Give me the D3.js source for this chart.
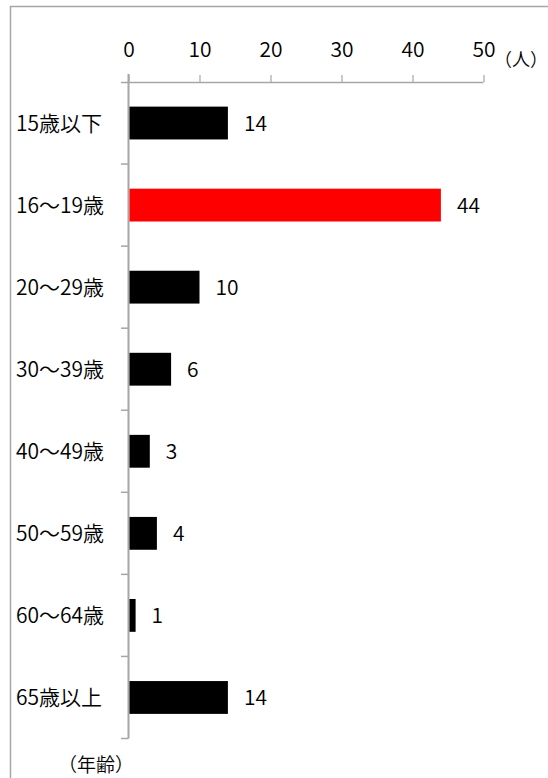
<!DOCTYPE html>
<html><head><meta charset="utf-8">
<script src="https://cdn.jsdelivr.net/npm/d3@7"></script>
<style>
body{margin:0;background:#fff;}
svg{display:block;}
text{font-family:"Noto Sans CJK JP","Noto Sans",sans-serif;fill:#000;font-weight:350;}
</style></head>
<body>
<svg id="c" width="548" height="778"></svg>
<script>
const categories = ["15歳以下","16～19歳","20～29歳","30～39歳","40～49歳","50～59歳","60～64歳","65歳以上"];
const values = [14, 44, 10, 6, 3, 4, 1, 14];
const highlight = ["16～19歳"];
const xTicks = [0, 10, 20, 30, 40, 50];
const unitX = "（人）";
const unitY = "（年齢）";

const svg = d3.select("#c");
const gray = "#a6a6a6";

// outer frame
svg.append("path").attr("d","M10.5,778 V6.5 H548").attr("fill","none").attr("stroke",gray).attr("stroke-width",1.5);

const x = d3.scaleLinear().domain([0,50]).range([128.5,483.5]);
const y = d3.scaleBand().domain(categories).range([82,738.5]).paddingInner(0.6).paddingOuter(0.3);

// x axis at top
const xa = svg.append("g").attr("transform","translate(0,82)")
  .call(d3.axisTop(x).tickValues(xTicks).tickSize(7).tickPadding(18));
xa.select(".domain").attr("d","M121,0.5 H483.5").attr("stroke",gray).attr("stroke-width",1.5);
xa.selectAll(".tick line").attr("stroke",gray).attr("stroke-width",1.2);
xa.selectAll(".tick text").attr("font-size",21).attr("font-family",null).attr("fill","#000");

// y axis
svg.append("line").attr("x1",128.5).attr("x2",128.5).attr("y1",74).attr("y2",738.5).attr("stroke",gray).attr("stroke-width",2);
const bandEdges = categories.map((c,i)=> 82 + (738.5-82)/categories.length*(i+1));
svg.selectAll(".ytick").data(bandEdges).enter().append("line")
  .attr("x1",121).attr("x2",128.5).attr("y1",d=>d).attr("y2",d=>d)
  .attr("stroke",gray).attr("stroke-width",1.5);

// bars
svg.selectAll(".bar").data(categories).enter().append("rect")
  .attr("x",x(0)+1).attr("y",d=>y(d))
  .attr("width",(d,i)=>x(values[i])-x(0)-1)
  .attr("height",y.bandwidth())
  .attr("fill",d=>highlight.includes(d)?"#ff0000":"#000000");

// value labels
svg.selectAll(".vl").data(categories).enter().append("text")
  .attr("x",(d,i)=>x(values[i])+16).attr("y",d=>y(d)+y.bandwidth()/2)
  .attr("dy","0.36em").attr("font-size",21)
  .text((d,i)=>values[i]);

// category labels
svg.selectAll(".cl").data(categories).enter().append("text")
  .attr("x",16).attr("y",d=>y(d)+y.bandwidth()/2)
  .attr("dy","0.36em").attr("font-size",21)
  .text(d=>d);

svg.append("text").attr("x",494).attr("y",60).attr("dy","0.36em").attr("font-size",18).text(unitX);
svg.append("text").attr("x",58).attr("y",765).attr("dy","0.36em").attr("font-size",19).text(unitY);
</script>
</body></html>
